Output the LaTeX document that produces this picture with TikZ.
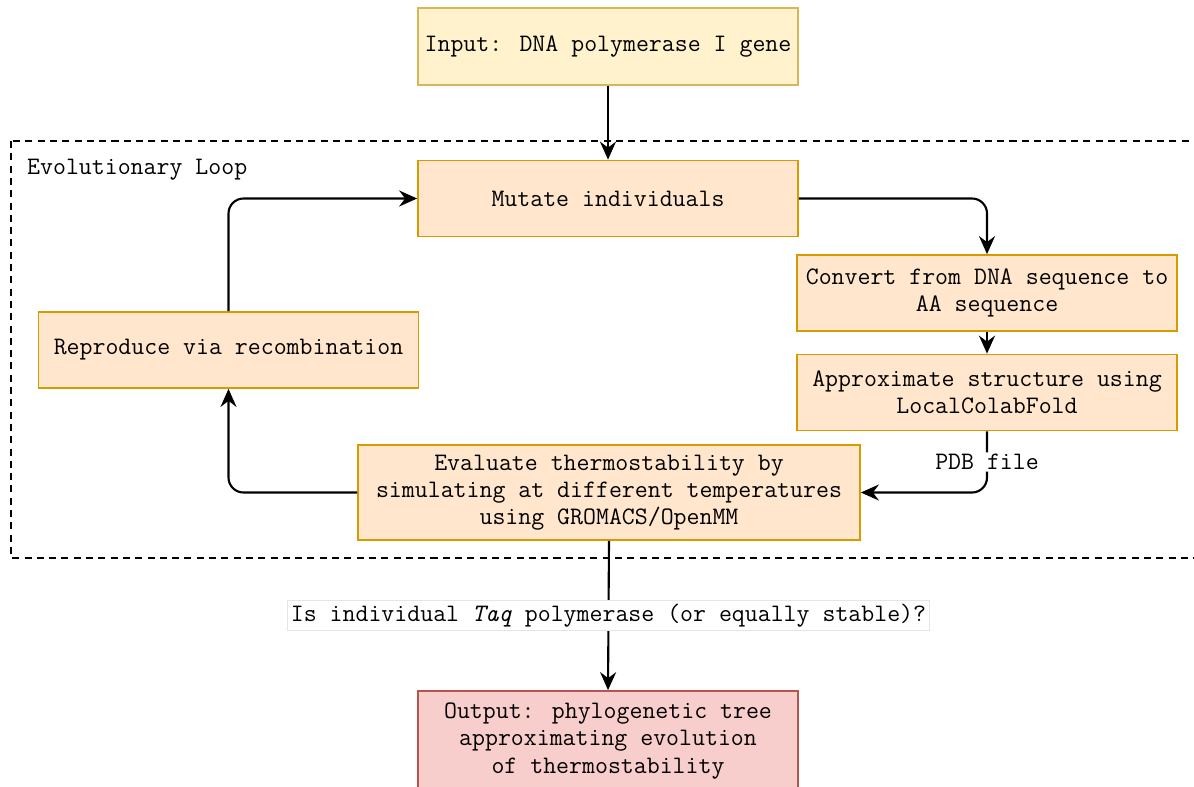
\documentclass[tikz,border=0pt]{standalone}
\usepackage{fontspec}
\usetikzlibrary{arrows.meta}
\definecolor{inyellow}{HTML}{FFF2CC}
\definecolor{inyellowline}{HTML}{D6B656}
\definecolor{steporange}{HTML}{FFE6CC}
\definecolor{steporangeline}{HTML}{D79B00}
\definecolor{outred}{HTML}{F8CECC}
\definecolor{outredline}{HTML}{B85450}
\begin{document}
\begin{tikzpicture}[
font=\ttfamily\fontsize{14.3}{15.4}\selectfont,
inputnode/.style={rectangle, draw=inyellowline, fill=inyellow, line width=1pt, minimum width=7.6cm, minimum height=1.54cm, align=center},
stepnode/.style={rectangle, draw=steporangeline, fill=steporange, line width=1pt, minimum width=7.6cm, minimum height=1.52cm, align=center, inner sep=1pt},
outputnode/.style={rectangle, draw=outredline, fill=outred, line width=1pt, minimum width=7.6cm, minimum height=2cm, align=center},
flow/.style={-{Stealth[length=3.6mm, width=3.2mm, inset=1.2mm]}, line width=1.2pt, rounded corners=0.3cm},
]
\clip (0,0) rectangle (23.88,-15.72);
\fill[white] (0,0) rectangle (23.88,-15.72);
%Loop frame
\draw[line width=0.9pt, dash pattern=on 4pt off 3pt] (0.22,-2.82) rectangle (24.2,-11.16);
\node[anchor=west] (looplabel) at (0.42,-3.4) {Evolutionary Loop};

%Nodes
\node[inputnode]  (input)     at (12.16,-0.93) {Input: DNA polymerase I gene};
\node[stepnode]   (mutate)    at (12.16,-3.97) {Mutate individuals};
\node[stepnode]   (convert)   at (19.74,-5.86) {Convert from DNA sequence to\\AA sequence};
\node[stepnode]   (approx)    at (19.74,-7.85) {Approximate structure using\\LocalColabFold};
\node[stepnode, minimum width=10.04cm, minimum height=1.9cm] (evaluate) at (12.18,-9.85) {Evaluate thermostability by\\simulating at different temperatures\\using GROMACS/OpenMM};
\node[stepnode]   (reproduce) at (4.57,-7.0) {Reproduce via recombination};
\node[outputnode] (output)    at (12.16,-14.82) {Output: phylogenetic tree\\approximating evolution\\of thermostability};

%Lines
\draw[flow] (input.south) -- (mutate.north);
\draw[flow] (mutate.east) -| (convert.north);
\draw[flow] (convert.south) -- (approx.north);
\draw[flow] (approx.south) |- node[pos=0.25, fill=white, inner sep=1pt] {PDB file} (evaluate.east);
\draw[flow] (evaluate.west) -| (reproduce.south);
\draw[flow] (reproduce.north) |- (mutate.west);
\draw[flow] (evaluate.south) -- node[fill=white, draw=gray!20, line width=0.4pt, sharp corners, inner sep=2pt] {Is individual \textit{Taq} polymerase (or equally stable)?} (output.north);
\end{tikzpicture}
\end{document}
